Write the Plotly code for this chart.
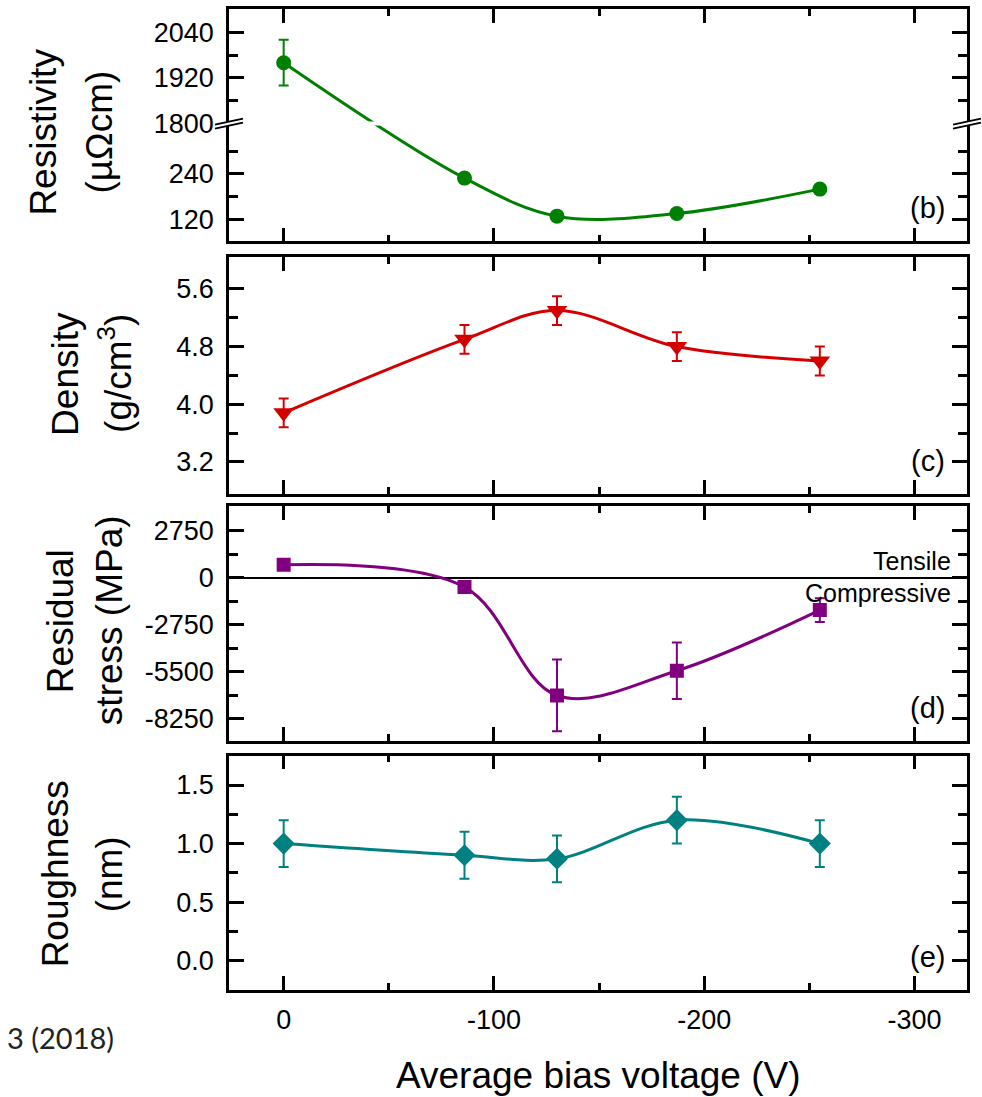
import plotly.graph_objects as go

# ---------------- data ----------------
BIAS = [0, -86, -130, -187, -255]                 # average bias voltage (V)

RESISTIVITY = [1960, 229, 129, 136, 200]          # µΩcm
RESISTIVITY_ERR = [60, 10, 10, 10, 10]

DENSITY = [3.88, 4.90, 5.30, 4.80, 4.60]          # g/cm3
DENSITY_ERR = [0.2, 0.2, 0.2, 0.2, 0.2]

STRESS = [750, -550, -6900, -5450, -1900]         # MPa
STRESS_ERR = [250, 250, 2100, 1650, 700]

ROUGHNESS = [1.0, 0.9, 0.87, 1.2, 1.0]            # nm
ROUGHNESS_ERR = [0.2, 0.2, 0.2, 0.2, 0.2]

X_TICKS = [0, -100, -200, -300]
X_TICKTEXT = ["0", "-100", "-200", "-300"]
X_MINOR = [-50, -150, -250]

RES_TICKS = [120, 240, 1800, 1920, 2040]
RES_MINOR = [180, 300, 1860, 1980]
DEN_TICKS = [3.2, 4.0, 4.8, 5.6]
DEN_MINOR = [3.6, 4.4, 5.2]
STR_TICKS = [-8250, -5500, -2750, 0, 2750]
STR_MINOR = [-6875, -4125, -1375, 1375]
RGH_TICKS = [0.0, 0.5, 1.0, 1.5]
RGH_MINOR = [0.25, 0.75, 1.25]

# broken resistivity axis: lower segment up to BREAK_LOW, upper from BREAK_HIGH
BREAK_LOW = 372
BREAK_HIGH = 1800


def res_axis(v):
    return v if v < BREAK_HIGH else v - BREAK_HIGH + BREAK_LOW


# ---------------- geometry ----------------
W, H = 982, 1097
L_PX, R_PX, T_PX, B_PX = 229, 967, 6, 990
PW = R_PX - L_PX
PH = B_PX - T_PX


def px_x(X):
    return (X - L_PX) / PW


def px_y(Y):
    return (B_PX - Y) / PH


PANELS = [(6, 239), (255, 492), (505, 740), (755, 990)]

FONT = "Liberation Sans, Arial, sans-serif"
GREEN = "#008000"
RED = "#D40000"
PURPLE = "#800080"
TEAL = "#008080"

fig = go.Figure()


def add_series(x, y, err, color, symbol, size, idx):
    fig.add_trace(go.Scatter(
        x=x, y=y, mode="lines+markers",
        line=dict(shape="spline", smoothing=1.0, width=3, color=color),
        marker=dict(symbol=symbol, size=size, color=color, line=dict(width=0)),
        error_y=dict(type="data", array=err, color=color, thickness=2, width=5),
        xaxis="x" if idx == 1 else f"x{idx}",
        yaxis="y" if idx == 1 else f"y{idx}",
        showlegend=False,
    ))


add_series(BIAS, [res_axis(v) for v in RESISTIVITY], RESISTIVITY_ERR, GREEN, "circle", 15, 1)
add_series(BIAS, DENSITY, DENSITY_ERR, RED, "triangle-down", 18, 2)
add_series(BIAS, STRESS, STRESS_ERR, PURPLE, "square", 14, 3)
add_series(BIAS, ROUGHNESS, ROUGHNESS_ERR, TEAL, "diamond", 17, 4)

tickfont = dict(family=FONT, size=27, color="black")

layout = dict(
    width=W, height=H,
    margin=dict(l=L_PX, r=W - R_PX, t=T_PX, b=H - B_PX),
    paper_bgcolor="white", plot_bgcolor="white",
    showlegend=False,
)

y_specs = [
    dict(range=[63, 673], tickvals=[res_axis(v) for v in RES_TICKS],
         ticktext=[str(v) for v in RES_TICKS],
         minor_vals=[res_axis(v) for v in RES_MINOR], zero=False),
    dict(range=[2.76, 6.04], tickvals=DEN_TICKS, ticktext=[f"{v:.1f}" for v in DEN_TICKS],
         minor_vals=DEN_MINOR, zero=False),
    dict(range=[-9552, 4169], tickvals=STR_TICKS, ticktext=[str(v) for v in STR_TICKS],
         minor_vals=STR_MINOR, zero=True),
    dict(range=[-0.25, 1.75], tickvals=RGH_TICKS, ticktext=[f"{v:.1f}" for v in RGH_TICKS],
         minor_vals=RGH_MINOR, zero=False),
]

for i, ((top, bot), spec) in enumerate(zip(PANELS, y_specs), start=1):
    xs = "" if i == 1 else str(i)
    layout[f"xaxis{xs}"] = dict(
        domain=[0, 1], anchor=f"y{xs}", range=[26, -325],
        tickmode="array", tickvals=X_TICKS, ticktext=X_TICKTEXT,
        ticks="inside", ticklen=14, tickwidth=2.5, tickcolor="black",
        showline=True, linewidth=2.5, linecolor="black", mirror="ticks",
        showgrid=False, zeroline=False,
        showticklabels=(i == 4), tickfont=tickfont, ticklabelstandoff=4,
        minor=dict(tickmode="array", tickvals=X_MINOR, ticks="inside", ticklen=7,
                   tickwidth=2.5, tickcolor="black", showgrid=False),
    )
    layout[f"yaxis{xs}"] = dict(
        domain=[px_y(bot), px_y(top)], anchor=f"x{xs}", range=spec["range"],
        tickmode="array", tickvals=spec["tickvals"], ticktext=spec["ticktext"],
        ticks="inside", ticklen=15, tickwidth=2.5, tickcolor="black",
        showline=True, linewidth=2.5, linecolor="black", mirror="ticks",
        showgrid=False, zeroline=spec["zero"], zerolinecolor="black", zerolinewidth=2,
        tickfont=tickfont, ticklabelstandoff=7,
        minor=dict(tickmode="array", tickvals=spec["minor_vals"], ticks="inside", ticklen=9,
                   tickwidth=2.5, tickcolor="black", showgrid=False),
    )

fig.update_layout(**layout)

# ---------------- annotations ----------------
ann = []
title_font = dict(family=FONT, size=37, color="black")
y_titles = [
    ("Resistivity", 44, 130), ("(µΩcm)", 100, 130),
    ("Density", 66, 372), ("(g/cm<sup>3</sup>)", 116, 372),
    ("Residual", 60, 620), ("stress (MPa)", 109, 619),
    ("Roughness", 55, 874), ("(nm)", 109, 874),
]
for text, xc, yc in y_titles:
    ann.append(dict(text=text, xref="paper", yref="paper", x=px_x(xc), y=px_y(yc),
                    xanchor="center", yanchor="middle", textangle=-90,
                    showarrow=False, font=title_font))

ann.append(dict(text="Average bias voltage (V)", xref="paper", yref="paper",
                x=px_x((L_PX + R_PX) / 2), y=px_y(1076), xanchor="center", yanchor="middle",
                showarrow=False, font=dict(family=FONT, size=37, color="black")))

ann.append(dict(text="3 (2018)", xref="paper", yref="paper",
                x=px_x(116), y=px_y(1038), xanchor="right", yanchor="middle",
                showarrow=False, font=dict(family="Lato, sans-serif", size=29, color="#222222")))

for i, lab in enumerate(["(b)", "(c)", "(d)", "(e)"], start=1):
    xs = "" if i == 1 else str(i)
    top, bot = PANELS[i - 1]
    ann.append(dict(text=lab, xref=f"x{xs} domain", yref=f"y{xs} domain",
                    x=1 - 20 / PW, y=33 / (bot - top), xanchor="right", yanchor="middle",
                    showarrow=False, font=dict(family=FONT, size=29, color="black")))

ann.append(dict(text="Tensile", xref="x3 domain", yref="y3", x=1 - 14 / PW, y=0,
                xanchor="right", yanchor="middle", yshift=17, showarrow=False,
                font=dict(family=FONT, size=25, color="black")))
ann.append(dict(text="Compressive", xref="x3 domain", yref="y3", x=1 - 14 / PW, y=0,
                xanchor="right", yanchor="middle", yshift=-15, showarrow=False,
                font=dict(family=FONT, size=25, color="black")))

fig.update_layout(annotations=ann)

# ---------------- axis break marks ----------------
shapes = []
bt = res_axis(BREAK_HIGH)
shapes.append(dict(type="rect", xref="x domain", yref="y", x0=0, x1=1,
                   ysizemode="pixel", yanchor=bt, y0=-2, y1=2,
                   fillcolor="white", line=dict(width=0), layer="above"))
for xa in (0, 1):
    shapes.append(dict(type="rect", xref="x domain", yref="y",
                       xsizemode="pixel", xanchor=xa, x0=-3, x1=3,
                       ysizemode="pixel", yanchor=bt, y0=-2, y1=2,
                       fillcolor="white", line=dict(width=0), layer="above"))
    for off in (-3, 1):
        shapes.append(dict(type="line", xref="x domain", yref="y",
                           xsizemode="pixel", xanchor=xa, x0=-14, x1=14,
                           ysizemode="pixel", yanchor=bt, y0=off - 2, y1=off + 4,
                           line=dict(color="black", width=2), layer="above"))
fig.update_layout(shapes=shapes)

fig.write_html("out.html", config={"displayModeBar": False},
               post_script="document.body.style.margin='0';")
